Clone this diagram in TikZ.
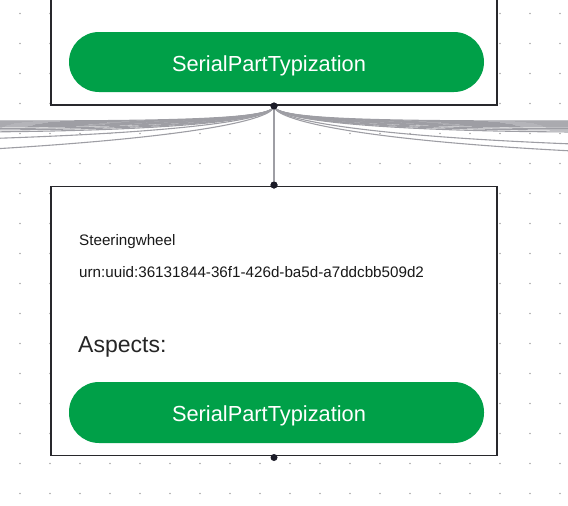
\documentclass[tikz,border=0pt]{standalone}
\usepackage{fontspec}
\setmainfont{Liberation Sans}
\usetikzlibrary{calc}
\definecolor{pillgreen}{RGB}{0,160,72}
\definecolor{boxline}{RGB}{40,40,44}
\definecolor{fangray}{RGB}{158,158,164}
\definecolor{griddot}{RGB}{170,170,170}
\definecolor{handle}{RGB}{28,28,40}
\tikzset{
  outerbox/.style={draw=boxline, line width=1.4pt, fill=white, inner sep=0pt},
  pill/.style={fill=pillgreen, rounded corners=30pt, inner sep=0pt},
  pilltext/.style={anchor=base, inner sep=0pt, text=white, font=\fontsize{21.8}{24}\selectfont},
  handledot/.style={circle, fill=handle, inner sep=0pt, minimum size=7pt},
  fan/.style={draw=fangray, line width=1.1pt},
  smalltext/.style={anchor=base west, inner sep=0pt, font=\fontsize{15.2}{17}\selectfont, text=black!90},
  bigtext/.style={anchor=base west, inner sep=0pt, font=\fontsize{23}{26}\selectfont, text=black!85},
}
\begin{document}
\begin{tikzpicture}[x=1pt, y=-1pt]
\useasboundingbox (0,0) rectangle (568,506);
\clip (0,0) rectangle (568,506);
% background grid dots
\foreach \i in {0,...,18}{
  \foreach \j in {0,...,16}{
    \fill[griddot] (20+30*\i, 13.5+30*\j) circle (0.85pt);
  }
}
% top box (extends above the canvas)
\node[outerbox, minimum width=446pt, minimum height=145pt] (topbox) at (274,32.5) {};
\node[pill, minimum width=415pt, minimum height=60pt] (toppill) at (276.5,62) {};
\node[pilltext] (toplabel) at (269,71.4) {SerialPartTypization};
% bottom box
\node[outerbox, minimum width=446pt, minimum height=269pt] (botbox) at (274,321) {};
\node[smalltext] (name) at (79,245.7) {Steeringwheel};
\node[smalltext] (urn) at (79,277.3) {urn:uuid:36131844-36f1-426d-ba5d-a7ddcbb509d2};
\node[bigtext] (aspects) at (78,352.3) {Aspects:};
\node[pill, minimum width=415pt, minimum height=61pt] (botpill) at (276.5,412.5) {};
\node[pilltext] (botlabel) at (269,421.8) {SerialPartTypization};
% handles
\node[handledot] (topdot) at (274,106) {};
\node[handledot] (botdot) at (274,185) {};
\node[handledot] (enddot) at (274,457.5) {};
% fan of connectors to far-away nodes (left)
\foreach \n/\ey/\cx/\cy in {1/121/160/121, 2/122/162/122, 3/123/158/123, 4/124/165/124,
  5/125/160/125, 6/126/168/126, 7/127/163/127, 8/128.5/170/128.5, 9/130/165/130,
  10/132/172/131, 11/139/178/133, 12/150/190/138}{
  \coordinate (L\n) at (-25,\ey);
  \draw[fan] (topdot.center) .. controls ($(topdot.center)+(0,14)$) and (\cx,\cy) .. (L\n);
}
% fan of connectors (right)
\foreach \n/\ey/\cx/\cy in {1/121/388/121, 2/122/386/122, 3/123/390/123, 4/124/383/124,
  5/125/388/125, 6/126/380/126, 7/127/385/127, 8/128.5/378/128.5, 9/130/383/130,
  10/132/376/131, 11/144/368/136, 12/151/358/140}{
  \coordinate (R\n) at (573,\ey);
  \draw[fan] (topdot.center) .. controls ($(topdot.center)+(0,14)$) and (\cx,\cy) .. (R\n);
}
% vertical connector
\draw[fan] (topdot.center) -- (botdot.center);
% redraw handles on top
\node[handledot] at (topdot) {};
\node[handledot] at (botdot) {};
\end{tikzpicture}
\end{document}
